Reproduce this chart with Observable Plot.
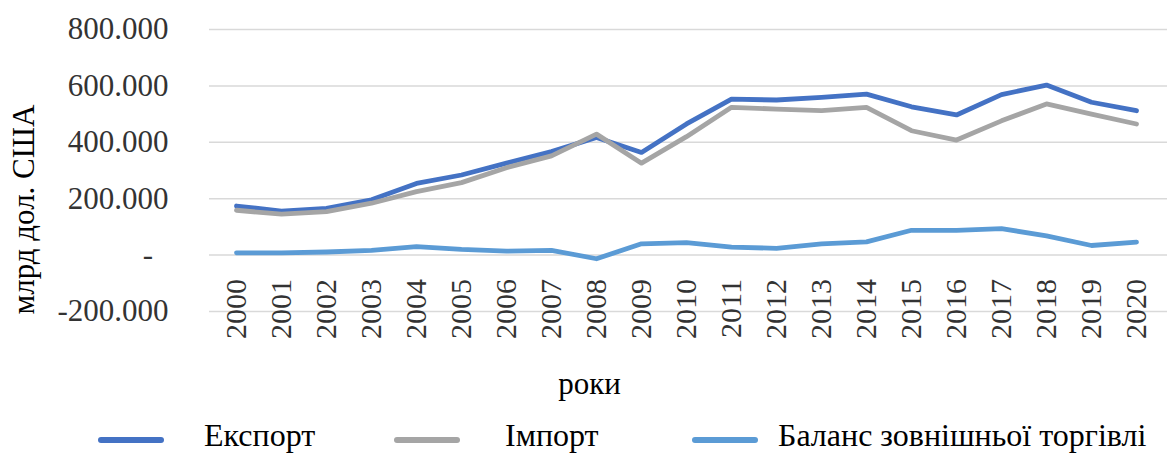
<!DOCTYPE html>
<html>
<head>
<meta charset="utf-8">
<script src="https://cdn.jsdelivr.net/npm/d3@7"></script>
<script src="https://cdn.jsdelivr.net/npm/@observablehq/plot@0.6"></script>
<style>
  html, body { margin: 0; padding: 0; background: #fff; }
  #wrap { position: relative; width: 1167px; height: 454px; overflow: hidden; font-family: "Liberation Serif", "Times New Roman", serif; }
  #chart svg { display: block; }
  .lg-sw { position: absolute; height: 6px; border-radius: 3px; }
  .lg-tx { position: absolute; font-size: 32px; line-height: 34px; color: #000; white-space: nowrap; font-family: "Liberation Serif", serif; }
</style>
</head>
<body>
<div id="wrap">
  <div id="chart"></div>
  <div id="legend"></div>
</div>
<script>
const years = ["2000","2001","2002","2003","2004","2005","2006","2007","2008","2009","2010",
               "2011","2012","2013","2014","2015","2016","2017","2018","2019","2020"];
const seriesNames = ["Експорт", "Імпорт", "Баланс зовнішньої торгівлі"];
const seriesColors = ["#4472C4", "#A5A5A5", "#5B9BD5"];
const exportVals  = [174,156,166,196,254,284,326,367,417,364,465,553,550,559,571,526,497,569,603,542,512];
const importVals  = [159,145,154,184,225,257,310,352,429,326,420,524,518,512,524,441,408,476,536,500,465];
const balanceVals = [8,8,11,17,30,20,14,17,-13,40,44,28,24,40,47,88,88,94,68,34,46];
const yTicks = [-200, 0, 200, 400, 600, 800];
const yTitle = "млрд дол. США";
const xTitle = "роки";

const valueSets = [exportVals, importVals, balanceVals];
const table = seriesNames.flatMap((s, i) => years.map((yr, j) => ({series: s, year: yr, value: valueSets[i][j]})));

const marginLeft = 205, marginRight = 0, marginTop = 29, marginBottom = 99, W = 1167, H = 410;
const frameCx = (marginLeft + (W - marginRight)) / 2;
const frameCy = (marginTop + (H - marginBottom)) / 2;
const fmtY = d => d === 0 ? "-\u2007" : (d < 0 ? "-" : "") + Math.abs(d).toFixed(3);

const chart = Plot.plot({
  width: W,
  height: H,
  marginLeft, marginRight, marginTop, marginBottom,
  style: {fontFamily: "'Liberation Serif', 'Times New Roman', serif", fontSize: "31px", color: "#000", background: "#fff"},
  x: {type: "point", domain: years, padding: 0.5, axis: null},
  y: {domain: [-200, 800], axis: null},
  color: {domain: seriesNames, range: seriesColors},
  marks: [
    Plot.ruleY(yTicks, {stroke: "#d9d9d9", strokeWidth: 1.5, insetLeft: 4}),
    Plot.axisY({ticks: yTicks, tickSize: 0, tickPadding: marginLeft - 168, fontSize: 31, fill: "#333",
      label: null, tickFormat: fmtY}),
    Plot.text(years, {x: d => d, y: () => 0, rotate: -90, textAnchor: "end", lineAnchor: "middle",
      dy: 24, fontSize: 30, fill: "#333"}),
    Plot.line(table, {x: "year", y: "value", z: "series", stroke: "series", strokeWidth: 4.8,
      strokeLinejoin: "round", strokeLinecap: "round"}),
    Plot.text([yTitle], {frameAnchor: "left", rotate: -90, dx: 24 - marginLeft, dy: 209 - frameCy,
      textAnchor: "middle", lineAnchor: "middle", fontSize: 31, fill: "#000"}),
    Plot.text([xTitle], {frameAnchor: "bottom", dx: 589 - frameCx, dy: 384 - (H - marginBottom),
      textAnchor: "middle", lineAnchor: "middle", fontSize: 31, fill: "#000"})
  ]
});
document.getElementById("chart").appendChild(chart);

// legend
const legendPos = [
  {sw: 98, sww: 66, tx: 204},
  {sw: 394, sww: 66, tx: 505},
  {sw: 692, sww: 66, tx: 778}
];
const legend = document.getElementById("legend");
seriesNames.forEach((s, i) => {
  const sw = document.createElement("div");
  sw.className = "lg-sw";
  sw.style.left = legendPos[i].sw + "px";
  sw.style.width = legendPos[i].sww + "px";
  sw.style.top = "437px";
  sw.style.background = seriesColors[i];
  legend.appendChild(sw);
  const tx = document.createElement("div");
  tx.className = "lg-tx";
  tx.style.left = legendPos[i].tx + "px";
  tx.style.top = "418px";
  tx.textContent = s;
  legend.appendChild(tx);
});
</script>
</body>
</html>
